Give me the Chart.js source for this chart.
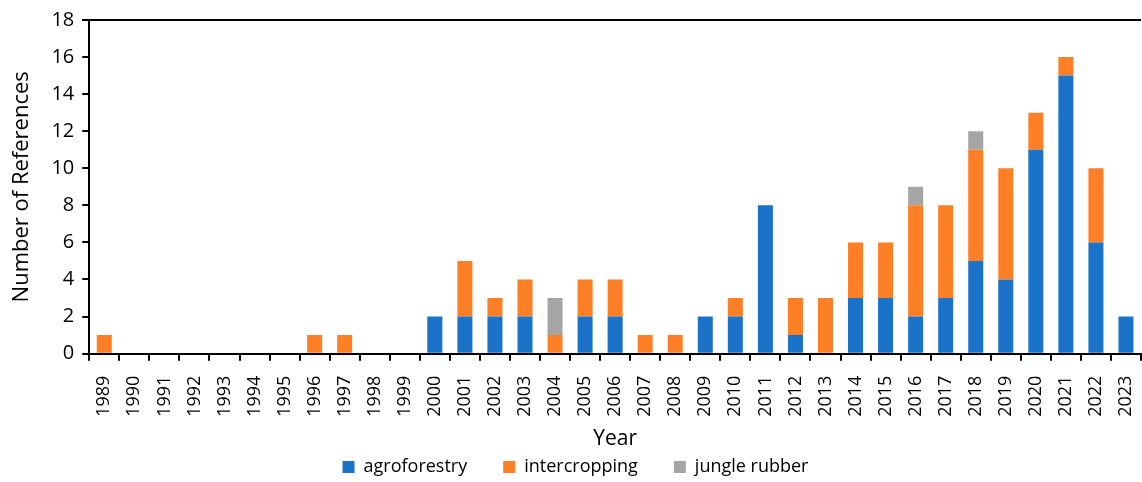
<!DOCTYPE html>
<html>
<head>
<meta charset="utf-8">
<script src="https://cdn.jsdelivr.net/npm/chart.js@4"></script>
<style>
  html, body { margin: 0; padding: 0; background: #fff; }
  #wrap { width: 1142px; height: 482px; }
</style>
</head>
<body>
<div id="wrap"><canvas id="refChart"></canvas></div>
<script>
const years = ['1989','1990','1991','1992','1993','1994','1995','1996','1997','1998','1999','2000',
  '2001','2002','2003','2004','2005','2006','2007','2008','2009','2010','2011','2012','2013',
  '2014','2015','2016','2017','2018','2019','2020','2021','2022','2023'];

const agroforestry = [0,0,0,0,0,0,0,0,0,0,0,2, 2,2,2,0,2,2,0,0,2,2,8,1,0, 3,3,2,3,5,4,11,15,6,2];
const intercropping = [1,0,0,0,0,0,0,1,1,0,0,0, 3,1,2,1,2,2,1,1,0,1,0,2,3, 3,3,6,5,6,6,2,1,4,0];
const jungleRubber = [0,0,0,0,0,0,0,0,0,0,0,0, 0,0,0,2,0,0,0,0,0,0,0,0,0, 0,0,1,0,1,0,0,0,0,0];

const yTicks = [0, 2, 4, 6, 8, 10, 12, 14, 16, 18];

const FONT = "'Open Sans', sans-serif";

// top border of the plot area
const topLine = {
    id: 'topLine',
    afterDraw(chart) {
        const a = chart.chartArea;
        const c = chart.ctx;
        c.save();
        c.strokeStyle = '#000';
        c.lineWidth = 2;
        c.beginPath();
        c.moveTo(a.left - 7, a.top);
        c.lineTo(a.right, a.top);
        c.stroke();
        c.restore();
    }
};

document.addEventListener("DOMContentLoaded", function () {
    const ctx = document.getElementById('refChart').getContext('2d');

    new Chart(ctx, {
        type: 'bar',
        data: {
            labels: years,
            datasets: [
                { label: 'agroforestry', data: agroforestry, backgroundColor: '#1A73C8' },
                { label: 'intercropping', data: intercropping, backgroundColor: '#FF7F27' },
                { label: 'jungle rubber', data: jungleRubber, backgroundColor: '#A5A5A5' }
            ]
        },
        options: {
            responsive: true,
            maintainAspectRatio: false,
            animation: false,
            layout: { padding: { left: 9, right: 0, top: 8, bottom: -4 } },
            datasets: {
                bar: { categoryPercentage: 1, barPercentage: 0.5 }
            },
            plugins: {
                legend: {
                    position: 'bottom',
                    labels: {
                        font: { family: FONT, size: 18 },
                        color: '#000',
                        boxWidth: 12,
                        boxHeight: 12,
                        padding: 36
                    }
                },
                tooltip: { enabled: false }
            },
            scales: {
                x: {
                    stacked: true,
                    offset: true,
                    afterFit(scale) {
                        // let the plot run to the right edge like the original
                        scale.paddingRight = 1;
                    },
                    border: { color: '#000', width: 2 },
                    grid: {
                        display: true,
                        drawOnChartArea: false,
                        offset: true,
                        tickLength: 7,
                        tickColor: '#000',
                        lineWidth: 2
                    },
                    ticks: {
                        font: { family: FONT, size: 18 },
                        color: '#000',
                        minRotation: 90,
                        maxRotation: 90,
                        autoSkip: false,
                        padding: 15
                    },
                    title: {
                        display: true,
                        text: 'Year',
                        font: { family: FONT, size: 21 },
                        color: '#000',
                        padding: { top: -5, bottom: -30 }
                    }
                },
                y: {
                    stacked: true,
                    min: 0,
                    max: 18,
                    afterBuildTicks(axis) {
                        axis.ticks = yTicks.map(v => ({ value: v }));
                    },
                    border: { color: '#000', width: 2 },
                    grid: {
                        display: true,
                        drawOnChartArea: false,
                        tickLength: 7,
                        tickColor: '#000',
                        lineWidth: 2
                    },
                    ticks: {
                        font: { family: FONT, size: 20 },
                        color: '#000',
                        padding: 8
                    },
                    title: {
                        display: true,
                        text: 'Number of References',
                        font: { family: FONT, size: 22 },
                        color: '#000',
                        padding: { top: 0, bottom: 8 }
                    }
                }
            }
        },
        plugins: [topLine]
    });
});
</script>
</body>
</html>
